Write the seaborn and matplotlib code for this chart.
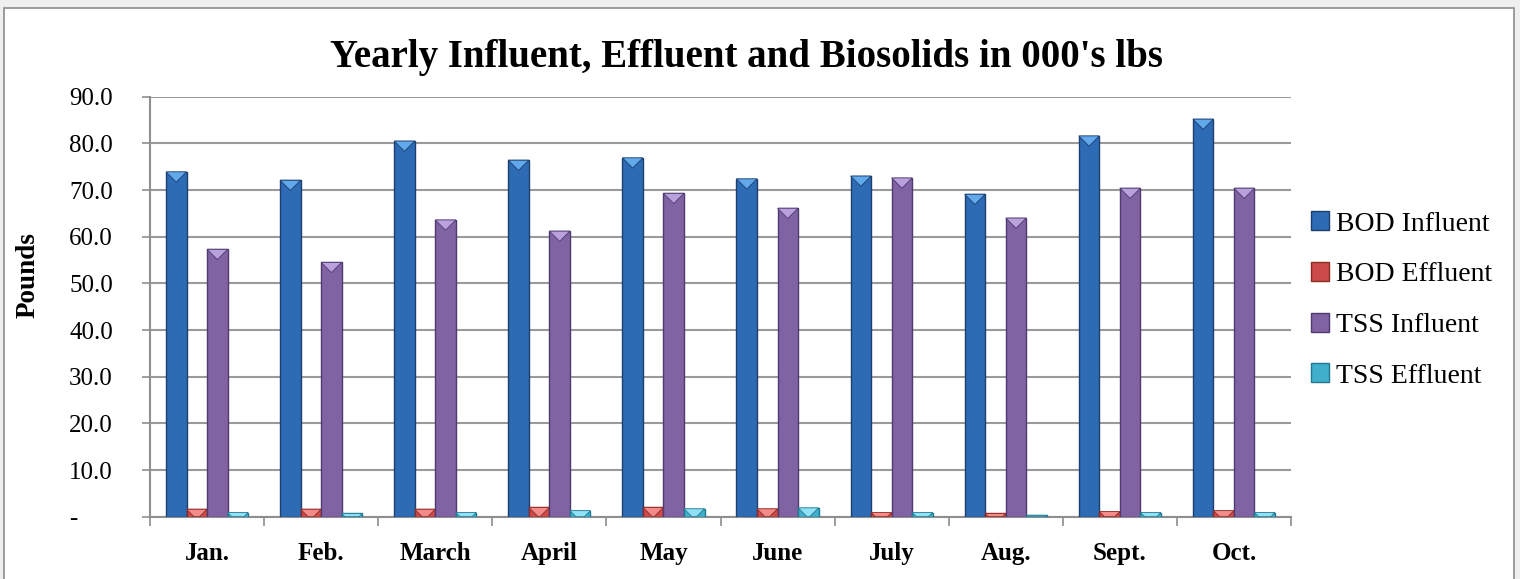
import numpy as np
import pandas as pd
import matplotlib
matplotlib.use("Agg")
import matplotlib.pyplot as plt
import seaborn as sns
from matplotlib.patches import Rectangle, Polygon, Patch

# ---------------- data ----------------
months = ["Jan.", "Feb.", "March", "April", "May", "June", "July", "Aug.", "Sept.", "Oct."]
series = ["BOD Influent", "BOD Effluent", "TSS Influent", "TSS Effluent"]
bod_influent = [73.9, 72.1, 80.5, 76.4, 76.9, 72.4, 73.0, 69.1, 81.6, 85.2]
bod_effluent = [1.6, 1.6, 1.6, 2.0, 2.0, 1.7, 0.9, 0.7, 1.1, 1.3]
tss_influent = [57.3, 54.5, 63.6, 61.2, 69.3, 66.1, 72.6, 64.0, 70.4, 70.4]
tss_effluent = [0.9, 0.7, 0.9, 1.3, 1.7, 1.9, 0.9, 0.3, 0.9, 0.9]
y_ticks = [0, 10, 20, 30, 40, 50, 60, 70, 80, 90]
title = "Yearly Influent, Effluent and Biosolids in 000's lbs"
y_label = "Pounds"

face_colors = ["#2E6BB5", "#CC4B48", "#8063A3", "#3FAFCB"]
edge_colors = ["#1C3F6E", "#8C2A28", "#4E3970", "#1F7A91"]
top_colors = ["#62A9EC", "#F58A88", "#B9A2DB", "#8FE2F5"]

df = pd.DataFrame({
    "Month": months * 4,
    "Series": np.repeat(series, len(months)),
    "Value": bod_influent + bod_effluent + tss_influent + tss_effluent,
})

# ---------------- style ----------------
sns.set_theme(style="white")
plt.rcParams["font.family"] = ["Liberation Serif", "DejaVu Serif"]
plt.rcParams["text.color"] = "black"

W, H = 1520, 579
fig = plt.figure(figsize=(W / 100, H / 100), dpi=100)
fig.patch.set_facecolor("#EFEFEF")
fig.add_artist(Rectangle((4 / W, -0.02), (1514 - 4) / W, (H - 8) / H + 0.02,
                         transform=fig.transFigure, facecolor="white",
                         edgecolor="#8C8C8C", lw=1.2, zorder=-5))

ax = fig.add_axes([150 / W, (H - 516.7) / H, 1141 / W, 420 / H])
ax.set_facecolor("none")

palette = dict(zip(series, face_colors))
sns.barplot(data=df, x="Month", y="Value", hue="Series", order=months,
            hue_order=series, palette=palette, width=0.72, gap=0,
            saturation=1, legend=False, ax=ax, zorder=3)

ax.set_xlim(-0.5, len(months) - 0.5)
ax.set_ylim(0, 90)
ax.set_yticks(y_ticks)
ax.set_yticklabels(["-"] + [f"{v:.1f}" for v in y_ticks[1:]])
ax.set_xlabel("")
ax.set_ylabel("")

gray = "#8F8F8F"
ax.yaxis.grid(True, color="#9A9A9A", lw=1.5, zorder=0)
ax.set_axisbelow(True)
for s in ["top", "right"]:
    ax.spines[s].set_visible(False)
for s in ["left", "bottom"]:
    ax.spines[s].set_color(gray)
    ax.spines[s].set_linewidth(1.5)

ax.tick_params(axis="y", which="major", direction="out", length=5.8, width=1.2,
               color=gray, labelcolor="black", pad=52.5, labelsize=18, left=True)
for lbl in ax.get_yticklabels():
    lbl.set_horizontalalignment("left")

ax.set_xticks(np.arange(-0.5, len(months), 1), minor=True)
ax.tick_params(axis="x", which="minor", direction="out", length=6.5, width=1.2,
               color=gray, bottom=True)
ax.tick_params(axis="x", which="major", length=0, pad=18, labelsize=18,
               labelcolor="black")
for lbl in ax.get_xticklabels():
    lbl.set_fontweight("bold")

# bevel look on each bar derived from the drawn patches
hex_face = [c.lower() for c in face_colors]
bars = [p for p in ax.patches if isinstance(p, Rectangle)]
for p in bars:
    fc = matplotlib.colors.to_hex(p.get_facecolor()).lower()
    if fc not in hex_face:
        continue
    i = hex_face.index(fc)
    p.set_edgecolor(edge_colors[i])
    p.set_linewidth(1.0)
    x0, w, h = p.get_x(), p.get_width(), p.get_height()
    (X0, Yt), (X1, Yb) = ax.transData.transform([(x0, h), (x0 + w, 0)])
    d = min((X1 - X0) / 2, Yt - Yb)
    pts_px = [(X0, Yt), (X1, Yt), (X1 - d, Yt - d), (X0 + d, Yt - d)]
    pts = ax.transData.inverted().transform(pts_px)
    ax.add_patch(Polygon(pts, closed=True, facecolor=top_colors[i],
                         edgecolor=edge_colors[i], lw=0.6, zorder=4))

# title and axis label
fig.text(747 / W, 1 - 67 / H, title, ha="center", va="baseline",
         fontsize=28, fontweight="bold", color="black")
fig.text(28 / W, 1 - 275 / H, y_label, ha="center", va="center",
         rotation=90, fontsize=19.5, fontweight="bold", color="black")

# legend
handles = [Patch(facecolor=face_colors[i], edgecolor=edge_colors[i], label=series[i])
           for i in range(len(series))]
leg = fig.legend(handles=handles, loc="center left", bbox_to_anchor=(1311 / W, 1 - 300 / H),
                 frameon=False, fontsize=20, borderpad=0, borderaxespad=0,
                 handlelength=0.66, handleheight=0.66, handletextpad=0.25,
                 labelspacing=0.92)
for t in leg.get_texts():
    t.set_color("black")

fig.savefig("out.png", dpi=100, facecolor=fig.get_facecolor())
